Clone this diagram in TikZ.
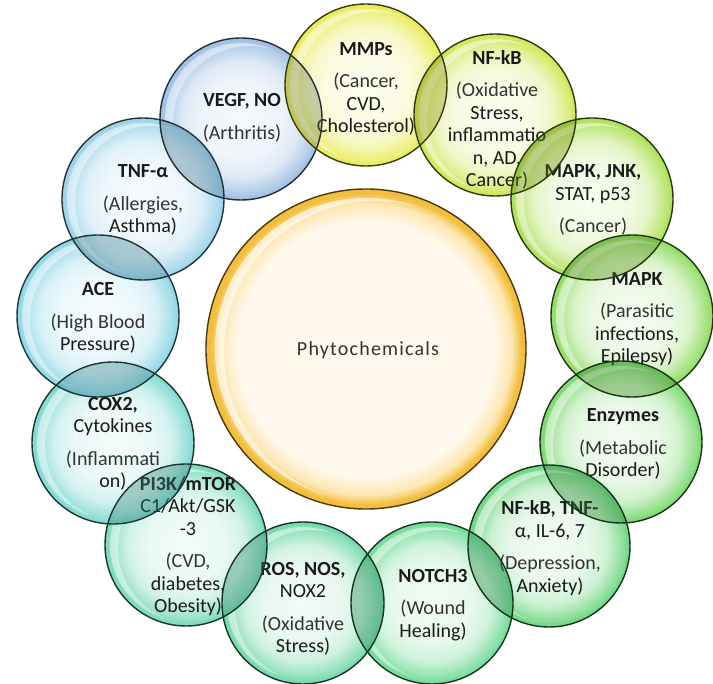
\documentclass[tikz,border=0pt]{standalone}
\usepackage{fontspec}
\setmainfont{Carlito}
\usetikzlibrary{calc}
\definecolor{cVEGF}{HTML}{8FB6DE}
\definecolor{cTNF}{HTML}{8DCCE6}
\definecolor{cACE}{HTML}{7DD0E2}
\definecolor{cCOX}{HTML}{6ED3C9}
\definecolor{cPI}{HTML}{66D3B2}
\definecolor{cROS}{HTML}{5ED39C}
\definecolor{cNOT}{HTML}{5CD588}
\definecolor{cNFT}{HTML}{58D06E}
\definecolor{cENZ}{HTML}{68D35A}
\definecolor{cMAPK}{HTML}{80D74C}
\definecolor{cMAPKJ}{HTML}{A2DB3C}
\definecolor{cNFKB}{HTML}{C8E33C}
\definecolor{cMMP}{HTML}{E6E83E}
\definecolor{coreIn}{HTML}{FFF8EC}
\definecolor{coreMid}{HTML}{FDE6B0}
\definecolor{coreRim}{HTML}{F2BE3C}
\definecolor{ttlc}{HTML}{1A1A1A}
\definecolor{descg}{HTML}{333333}
\colorlet{bubcol}{cVEGF}
\pgfdeclareradialshading[bubcol]{bubble}{\pgfpoint{0bp}{0bp}}{%
 color(0bp)=(bubcol!9!white); color(12bp)=(bubcol!17!white); color(18bp)=(bubcol!35!white);
 color(22bp)=(bubcol!72!white); color(24.5bp)=(bubcol); color(25bp)=(bubcol); color(50bp)=(bubcol)}
\pgfdeclareradialshading{core}{\pgfpoint{0bp}{0bp}}{%
 color(0bp)=(coreIn); color(20bp)=(coreIn); color(22.8bp)=(coreMid); color(24.3bp)=(coreRim); color(25bp)=(coreRim); color(50bp)=(coreRim)}
\newcommand\mybubble[2]{\colorlet{bubcol}{#2}\shade[shading=bubble, fill opacity=0.85] (#1) circle[radius=81pt];
  \begin{scope}\clip (#1) circle[radius=76pt];
  \fill[white, fill opacity=0.45, even odd rule] (#1) circle[radius=76pt] ($(#1)+(8,3)$) circle[radius=76pt];
  \end{scope}}
\newcommand\mylens[4]{\begin{scope}\clip (#1) circle[radius=81pt];
  \fill[#3!50!#4!65!black, fill opacity=0.35] (#2) circle[radius=81pt];\end{scope}}
\newcommand\myrim[2]{\draw[rim, #2!25!black] (#1) circle[radius=81pt];}
\tikzset{
  rim/.style={line width=1.4pt},
  lbl/.style={align=center, inner sep=0pt, text=ttlc, font=\fontsize{20pt}{22.5pt}\selectfont},
}
\newcommand\dsc{\mdseries\color{descg}}
\begin{document}
\begin{tikzpicture}[x=1pt, y=-1pt]
\useasboundingbox (0,0) rectangle (713,684);
% centres
\coordinate (cVEGF) at (241,119);
\coordinate (cMMP) at (366,85);
\coordinate (cNFKB) at (495,115);
\coordinate (cMAPKJ) at (592,199);
\coordinate (cMAPK) at (632,316);
\coordinate (cENZ) at (621,442);
\coordinate (cNFT) at (549,546);
\coordinate (cNOT) at (432,603);
\coordinate (cROS) at (303,603);
\coordinate (cPI) at (186,545);
\coordinate (cCOX) at (113,443);
\coordinate (cACE) at (98,316);
\coordinate (cTNF) at (143,199);
\coordinate (cCore) at (366,349);
% central circle
\shade[shading=core] (cCore) circle[radius=160pt];
\begin{scope}\clip (cCore) circle[radius=151pt];
\fill[white, fill opacity=0.6, even odd rule] (cCore) circle[radius=151pt] ($(cCore)+(9,3)$) circle[radius=151pt];
\end{scope}
\draw[line width=1.4pt, coreRim!30!black] (cCore) circle[radius=160pt];
\node[lbl, text=descg, font=\fontsize{20pt}{22pt}\selectfont\addfontfeatures{LetterSpace=6}] (core) at (368,350) {Phytochemicals};
% bubbles
\mybubble{cVEGF}{cVEGF}
\mybubble{cMMP}{cMMP}
\mybubble{cNFKB}{cNFKB}
\mybubble{cMAPKJ}{cMAPKJ}
\mybubble{cMAPK}{cMAPK}
\mybubble{cENZ}{cENZ}
\mybubble{cNFT}{cNFT}
\mybubble{cNOT}{cNOT}
\mybubble{cROS}{cROS}
\mybubble{cPI}{cPI}
\mybubble{cCOX}{cCOX}
\mybubble{cACE}{cACE}
\mybubble{cTNF}{cTNF}
% texts
\node[lbl] (tVEGF) at (242,118) {\bfseries VEGF, NO\\[10pt]\dsc (Arthritis)};
\node[lbl] (tMMP) at (366,89) {\bfseries MMPs\\[10pt]\dsc (Cancer,\\ CVD,\\ Cholesterol)};
\node[lbl] (tNFKB) at (497,120) {\bfseries NF-kB\\[10pt]\dsc (Oxidative\\ Stress,\\ inflammatio\\ n, AD,\\ Cancer)};
\node[lbl] (tMAPKJ) at (593,200) {\bfseries MAPK, JNK,\\ STAT, p53\\[10pt]\dsc (Cancer)};
\node[lbl] (tMAPK) at (637,319) {\bfseries MAPK\\[10pt]\dsc (Parasitic\\ infections,\\ Epilepsy)};
\node[lbl] (tENZ) at (623,444) {\bfseries Enzymes\\[10pt]\dsc (Metabolic\\ Disorder)};
\node[lbl] (tNFT) at (550,548) {\bfseries NF-kB, TNF-\\ α, IL-6, 7\\[10pt]\dsc (Depression,\\ Anxiety)};
\node[lbl] (tNOT) at (433,605) {\bfseries NOTCH3\\[10pt]\dsc (Wound\\ Healing)};
\node[lbl] (tROS) at (303,609) {\bfseries ROS, NOS,\\ NOX2\\[10pt]\dsc (Oxidative\\ Stress)};
\node[lbl] (tPI) at (188,546) {\bfseries PI3K/mTOR\\ C1/Akt/GSK\\ -3\\[10pt]\dsc (CVD,\\ diabetes,\\ Obesity)};
\node[lbl] (tCOX) at (113,444) {\bfseries COX2,\\ Cytokines\\[10pt]\dsc (Inflammati\\ on)};
\node[lbl] (tACE) at (98,318) {\bfseries ACE\\[10pt]\dsc (High Blood\\ Pressure)};
\node[lbl] (tTNF) at (143,200) {\bfseries TNF-α\\[10pt]\dsc (Allergies,\\ Asthma)};
% overlaps
\mylens{cVEGF}{cMMP}{cVEGF}{cMMP}
\mylens{cMMP}{cNFKB}{cMMP}{cNFKB}
\mylens{cNFKB}{cMAPKJ}{cNFKB}{cMAPKJ}
\mylens{cMAPKJ}{cMAPK}{cMAPKJ}{cMAPK}
\mylens{cMAPK}{cENZ}{cMAPK}{cENZ}
\mylens{cENZ}{cNFT}{cENZ}{cNFT}
\mylens{cNFT}{cNOT}{cNFT}{cNOT}
\mylens{cNOT}{cROS}{cNOT}{cROS}
\mylens{cROS}{cPI}{cROS}{cPI}
\mylens{cPI}{cCOX}{cPI}{cCOX}
\mylens{cCOX}{cACE}{cCOX}{cACE}
\mylens{cACE}{cTNF}{cACE}{cTNF}
\mylens{cTNF}{cVEGF}{cTNF}{cVEGF}
% rims
\myrim{cVEGF}{cVEGF}
\myrim{cMMP}{cMMP}
\myrim{cNFKB}{cNFKB}
\myrim{cMAPKJ}{cMAPKJ}
\myrim{cMAPK}{cMAPK}
\myrim{cENZ}{cENZ}
\myrim{cNFT}{cNFT}
\myrim{cNOT}{cNOT}
\myrim{cROS}{cROS}
\myrim{cPI}{cPI}
\myrim{cCOX}{cCOX}
\myrim{cACE}{cACE}
\myrim{cTNF}{cTNF}
\end{tikzpicture}
\end{document}
